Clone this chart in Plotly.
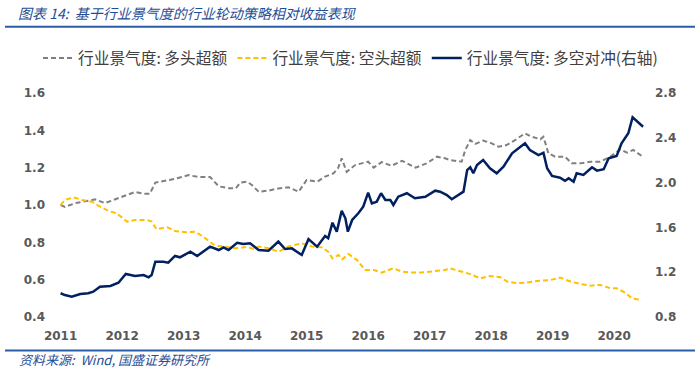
import plotly.graph_objects as go

# ---- data (decimal year, value) ----
gray_t = [2011.00, 2011.07, 2011.24, 2011.40, 2011.56, 2011.72, 2011.89, 2012.05, 2012.21, 2012.37,
          2012.45, 2012.54, 2012.70, 2012.86, 2013.08, 2013.24, 2013.43, 2013.57, 2013.73, 2013.85,
          2013.92, 2014.03, 2014.11, 2014.22, 2014.38, 2014.54, 2014.70, 2014.87, 2015.00, 2015.17,
          2015.30, 2015.44, 2015.51, 2015.57, 2015.65, 2015.79, 2016.00, 2016.09, 2016.22, 2016.38,
          2016.55, 2016.77, 2016.95, 2017.12, 2017.25, 2017.33, 2017.52, 2017.58, 2017.66, 2017.74,
          2017.87, 2018.01, 2018.12, 2018.25, 2018.39, 2018.55, 2018.66, 2018.80, 2018.85, 2018.93,
          2019.04, 2019.20, 2019.31, 2019.45, 2019.61, 2019.77, 2019.94, 2020.10, 2020.21, 2020.31,
          2020.45]
gray_v = [1.00, 0.99, 1.01, 1.02, 1.03, 1.01, 1.03, 1.05, 1.07, 1.06,
          1.06, 1.12, 1.13, 1.14, 1.16, 1.15, 1.15, 1.10, 1.09, 1.09,
          1.12, 1.125, 1.107, 1.071, 1.077, 1.089, 1.095, 1.071, 1.134, 1.125,
          1.152, 1.17, 1.197, 1.25, 1.178, 1.214, 1.232, 1.20, 1.23, 1.21,
          1.237, 1.20, 1.223, 1.259, 1.25, 1.241, 1.232, 1.295, 1.348, 1.327,
          1.345, 1.33, 1.312, 1.321, 1.348, 1.384, 1.366, 1.352, 1.366, 1.277,
          1.259, 1.259, 1.223, 1.223, 1.232, 1.232, 1.259, 1.298, 1.28, 1.295,
          1.262]

yellow_t = [2011.00, 2011.07, 2011.21, 2011.35, 2011.51, 2011.62, 2011.78, 2011.91, 2012.08, 2012.21,
            2012.40, 2012.48, 2012.56, 2012.73, 2012.86, 2013.05, 2013.19, 2013.32, 2013.51, 2013.68,
            2013.84, 2014.03, 2014.14, 2014.22, 2014.38, 2014.54, 2014.70, 2014.92, 2015.09, 2015.25,
            2015.35, 2015.42, 2015.52, 2015.58, 2015.68, 2015.82, 2015.95, 2016.09, 2016.22, 2016.41,
            2016.55, 2016.71, 2016.87, 2017.04, 2017.25, 2017.33, 2017.50, 2017.66, 2017.82, 2017.98,
            2018.15, 2018.26, 2018.42, 2018.58, 2018.74, 2018.96, 2019.12, 2019.29, 2019.45, 2019.61,
            2019.77, 2019.94, 2020.04, 2020.18, 2020.29, 2020.45]
yellow_v = [1.00, 1.027, 1.041, 1.027, 1.018, 0.995, 0.968, 0.956, 0.911, 0.92,
            0.92, 0.911, 0.87, 0.881, 0.861, 0.854, 0.857, 0.83, 0.782, 0.777,
            0.768, 0.775, 0.765, 0.777, 0.768, 0.75, 0.777, 0.795, 0.777, 0.773,
            0.75, 0.714, 0.732, 0.709, 0.738, 0.705, 0.652, 0.652, 0.638, 0.661,
            0.643, 0.638, 0.638, 0.643, 0.652, 0.661, 0.643, 0.63, 0.607, 0.62,
            0.613, 0.59, 0.581, 0.584, 0.593, 0.598, 0.611, 0.59, 0.577, 0.568,
            0.572, 0.554, 0.554, 0.53, 0.50, 0.491]

blue_t = [2011.00, 2011.07, 2011.18, 2011.32, 2011.45, 2011.53, 2011.64, 2011.81, 2011.94, 2012.06,
          2012.21, 2012.35, 2012.43, 2012.48, 2012.54, 2012.67, 2012.75, 2012.86, 2012.94, 2013.02,
          2013.11, 2013.22, 2013.30, 2013.43, 2013.57, 2013.65, 2013.73, 2013.87, 2013.97, 2014.08,
          2014.22, 2014.38, 2014.54, 2014.65, 2014.76, 2014.92, 2015.03, 2015.17, 2015.30, 2015.35,
          2015.42, 2015.49, 2015.57, 2015.63, 2015.67, 2015.74, 2015.84, 2015.92, 2016.00, 2016.06,
          2016.14, 2016.21, 2016.28, 2016.36, 2016.41, 2016.49, 2016.63, 2016.76, 2016.93, 2017.09,
          2017.17, 2017.28, 2017.36, 2017.47, 2017.55, 2017.61, 2017.66, 2017.71, 2017.77, 2017.87,
          2017.98, 2018.09, 2018.20, 2018.34, 2018.47, 2018.55, 2018.63, 2018.77, 2018.85, 2018.91,
          2018.99, 2019.12, 2019.20, 2019.26, 2019.34, 2019.39, 2019.50, 2019.64, 2019.72, 2019.83,
          2019.91, 2020.04, 2020.12, 2020.23, 2020.30, 2020.40, 2020.47]
blue_v = [1.012, 0.996, 0.981, 1.005, 1.012, 1.026, 1.07, 1.077, 1.106, 1.184,
          1.166, 1.175, 1.154, 1.175, 1.294, 1.294, 1.285, 1.345, 1.333, 1.354,
          1.383, 1.345, 1.374, 1.428, 1.398, 1.422, 1.398, 1.463, 1.452, 1.458,
          1.398, 1.392, 1.473, 1.407, 1.413, 1.354, 1.495, 1.428, 1.523, 1.503,
          1.642, 1.562, 1.749, 1.681, 1.562, 1.666, 1.726, 1.785, 1.91, 1.815,
          1.83, 1.905, 1.845, 1.845, 1.80, 1.874, 1.905, 1.86, 1.874, 1.928,
          1.919, 1.889, 1.851, 1.889, 1.919, 2.112, 2.137, 2.083, 2.157, 2.202,
          2.128, 2.083, 2.142, 2.262, 2.321, 2.351, 2.291, 2.246, 2.267, 2.128,
          2.059, 2.044, 2.017, 2.038, 2.008, 2.083, 2.068, 2.137, 2.107, 2.119,
          2.217, 2.238, 2.351, 2.44, 2.583, 2.529, 2.499]

year_ticks = list(range(2011, 2021))
left_ticks = [0.4, 0.6, 0.8, 1.0, 1.2, 1.4, 1.6]
right_ticks = [0.8, 1.2, 1.6, 2.0, 2.4, 2.8]

names = ["行业景气度: 多头超额", "行业景气度: 空头超额", "行业景气度: 多空对冲(右轴)"]

TICK_FONT = dict(family="DejaVu Sans", size=12, color="#595959", weight="bold")
CJK = "Noto Sans CJK SC"

fig = go.Figure()
fig.add_trace(go.Scatter(x=gray_t, y=gray_v, name=names[0], mode="lines",
                         line=dict(color="#808080", width=2, dash="5px,3px")))
fig.add_trace(go.Scatter(x=yellow_t, y=yellow_v, name=names[1], mode="lines",
                         line=dict(color="#FFC000", width=2, dash="5px,3px")))
fig.add_trace(go.Scatter(x=blue_t, y=blue_v, name=names[2], mode="lines", yaxis="y2",
                         line=dict(color="#002060", width=2.5)))

fig.update_layout(
    width=700, height=370,
    margin=dict(l=60, r=52, t=93, b=53),
    paper_bgcolor="white", plot_bgcolor="white",
    showlegend=True,
    legend=dict(orientation="h", xref="paper", x=-0.0374, xanchor="left",
                yref="paper", y=1.155, yanchor="middle",
                font=dict(family=CJK, size=15.7, color="#404040"),
                bgcolor="rgba(0,0,0,0)", itemwidth=30),
    xaxis=dict(range=[2010.99, 2020.55], tickvals=year_ticks, ticktext=[str(y) for y in year_ticks],
               showgrid=False, zeroline=False, showline=False, ticks="",
               tickfont=TICK_FONT, ticklabelstandoff=10),
    yaxis=dict(range=[0.4, 1.6], tickvals=left_ticks, tickformat=".1f",
               showgrid=False, zeroline=False, showline=False, ticks="",
               tickfont=TICK_FONT, ticklabelstandoff=14),
    yaxis2=dict(range=[0.8, 2.8], tickvals=right_ticks, tickformat=".1f", overlaying="y", side="right",
                showgrid=False, zeroline=False, showline=False, ticks="",
                tickfont=TICK_FONT, ticklabelstandoff=6),
    shapes=[
        dict(type="line", xref="paper", yref="paper", x0=-0.0935, x1=1.0799, y0=1.296, y1=1.296,
             line=dict(color="#2B5CA8", width=2)),
        dict(type="line", xref="paper", yref="paper", x0=-0.0935, x1=1.0799, y0=-0.150, y1=-0.150,
             line=dict(color="#2B5CA8", width=2)),
    ],
    annotations=[
        dict(text="<i>图表 14:  基于行业景气度的行业轮动策略相对收益表现</i>", xref="paper", yref="paper",
             x=-0.0748, y=1.3585, xanchor="left", yanchor="middle", showarrow=False,
             font=dict(family=CJK, size=14, color="#1F4E96")),
        dict(text="<i>资料来源:  Wind, 国盛证券研究所</i>", xref="paper", yref="paper",
             x=-0.0731, y=-0.189, xanchor="left", yanchor="middle", showarrow=False,
             font=dict(family=CJK, size=13, color="#1F4E96")),
    ],
)

fig.write_html("out.html", config={"displayModeBar": False},
               post_script="document.body.style.margin='0';")
